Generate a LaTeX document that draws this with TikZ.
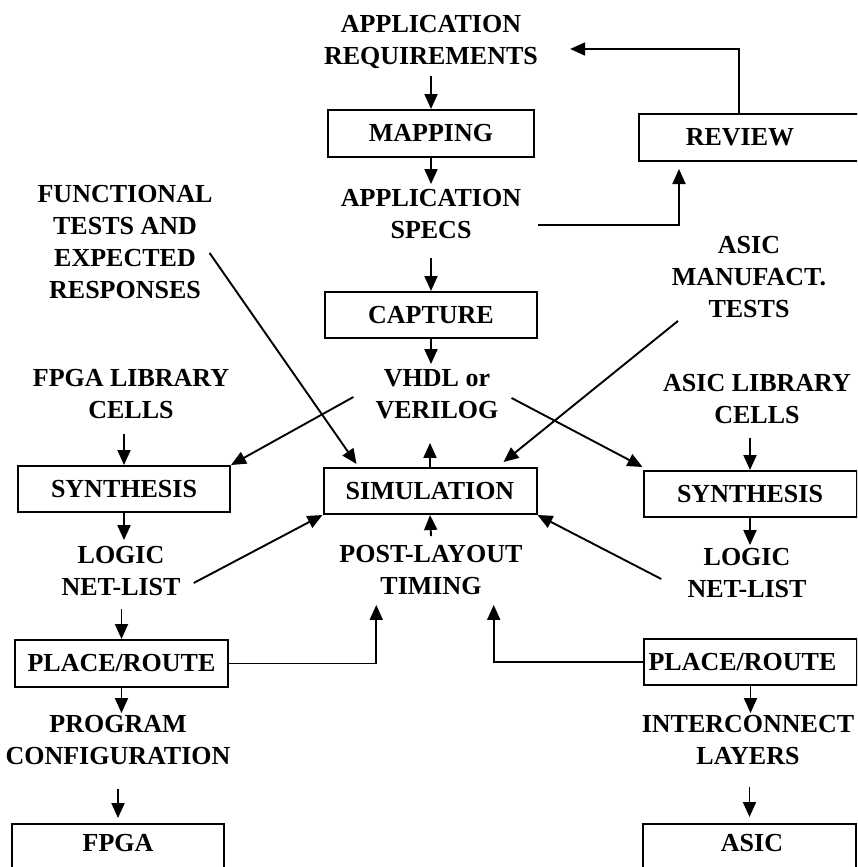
\documentclass[tikz,border=0pt]{standalone}
\usepackage{fontspec}
\setmainfont{Liberation Serif}
\usetikzlibrary{arrows.meta,calc}
\begin{document}
\begin{tikzpicture}[x=1pt,y=-1pt,
  lbl/.style={align=center,inner sep=0pt,font=\bfseries\fontsize{26}{32}\selectfont},
  box/.style={draw,line width=2pt,inner sep=0pt,minimum height=46pt,font=\bfseries\fontsize{26}{32}\selectfont},
  arr/.style={line width=1.9pt,-{Triangle[length=15pt,width=13pt]}}]
\useasboundingbox (0,0) rectangle (857,867);
\clip (0,0) rectangle (857,867);
% central column
\node[lbl] (req) at (431,42) {APPLICATION\\REQUIREMENTS};
\node[box,minimum width=206pt,minimum height=47pt] (mapping) at (431,133.5) {MAPPING};
\node[lbl] (specs) at (431,214) {APPLICATION\\SPECS};
\node[box,minimum width=242pt,minimum height=47pt,anchor=north west] (reviewbox) at (638,113) {};
\node[lbl] (review) at (740,137) {REVIEW};
\node[box,minimum width=212pt] (capture) at (431,315) {CAPTURE};
\node[lbl] (vhdl) at (437,394) {VHDL or\\VERILOG};
\node[lbl] (func) at (125,242) {FUNCTIONAL\\TESTS AND\\EXPECTED\\RESPONSES};
\node[lbl] (fpgalib) at (131,394) {FPGA LIBRARY\\CELLS};
\node[box,minimum width=212pt] (fsynth) at (124,489) {SYNTHESIS};
\node[box,minimum width=213pt] (sim) at (430,491) {SIMULATION};
\node[lbl] (asictests) at (749,277) {ASIC\\MANUFACT.\\TESTS};
\node[lbl] (asiclib) at (757,399) {ASIC LIBRARY\\CELLS};
\node[box,minimum width=213pt] (asynth) at (750,494) {SYNTHESIS};
\node[lbl] (llogic) at (121,571) {LOGIC\\NET-LIST};
\node[lbl] (post) at (431,570) {POST-LAYOUT\\TIMING};
\node[lbl] (rlogic) at (747,573) {LOGIC\\NET-LIST};
\node[box,minimum width=213pt,minimum height=47pt] (fpr) at (121.5,663.5) {PLACE/ROUTE};
\node[box,minimum width=213pt] (apr) at (750.5,662) {PLACE/ROUTE\hspace*{16pt}};
\node[lbl] (prog) at (118,740) {PROGRAM\\CONFIGURATION};
\node[lbl] (inter) at (748,740) {INTERCONNECT\\LAYERS};
\node[box,minimum width=212pt,minimum height=80pt,anchor=north] (fpga) at (118,823) {};
\node[lbl] (fpgat) at (118,843) {FPGA};
\node[box,minimum width=213pt,minimum height=80pt,anchor=north] (asic) at (749.5,823) {};
\node[lbl] (asict) at (752,843) {ASIC};
% connectors
\draw[arr] ($(req.south)+(0,7)$) -- (mapping.north);
\draw[arr] (mapping.south) -- ($(specs.north)+(0,-5)$);
\draw[arr] ($(specs.south)+(0,19)$) -- (capture.north);
\draw[arr] (capture.south) -- ($(capture.south |- vhdl.north)+(0,-5)$);
\draw[arr] (sim.north) -- ($(sim.north |- vhdl.south)+(0,24)$);
\draw[arr] ($(vhdl.west)+(-22,3)$) -- (fsynth.north east);
\draw[arr] ($(vhdl.east)+(13,4)$) -- ($(asynth.north west)+(0,-3)$);
\draw[arr] ($(func.east)+(-3,11)$) -- ($(sim.north west)+(34,-3)$);
\draw[arr] ($(asictests.south)+(-71,3)$) -- ($(sim.north east)+(-34,-5)$);
\draw[arr] ($(fsynth.north |- fpgalib.south)+(0,15)$) -- (fsynth.north);
\draw[arr] ($(asynth.north |- asiclib.south)+(0,14)$) -- (asynth.north);
\draw[arr] (fsynth.south) -- ($(fsynth.south |- llogic.north)+(0,-6)$);
\draw[arr] (asynth.south) -- ($(asynth.south |- rlogic.north)+(0,-3)$);
\draw[arr] ($(llogic.east)+(13,12)$) -- (sim.south west);
\draw[arr] ($(rlogic.west)+(-26,6)$) -- (sim.south east);
\draw[arr] ($(post.north)+(0,-9)$) -- (sim.south);
\draw[arr] ($(fpr.north |- llogic.south)+(0,13)$) -- (fpr.north);
\draw[arr] (fpr.east) -| ($(post.south west)+(37,10)$);
\draw[arr] (apr.west) -| ($(post.south east)+(-29,10)$);
\draw[arr] (fpr.south) -- ($(fpr.south |- prog.north)+(0,-2)$);
\draw[arr] ($(fpga.north |- prog.south)+(0,24)$) -- ($(fpga.north)+(0,-5)$);
\draw[arr] (apr.south) -- ($(apr.south |- inter.north)+(0,-2)$);
\draw[arr] ($(asic.north |- inter.south)+(0,22)$) -- ($(asic.north)+(0,-6)$);
\draw[arr] ($(specs.east)+(17,11)$) -| ($(reviewbox.south west)+(41,7)$);
\draw[arr] ($(reviewbox.north west)+(101,0)$) |- ($(req.east)+(32,7)$);
\end{tikzpicture}
\end{document}
